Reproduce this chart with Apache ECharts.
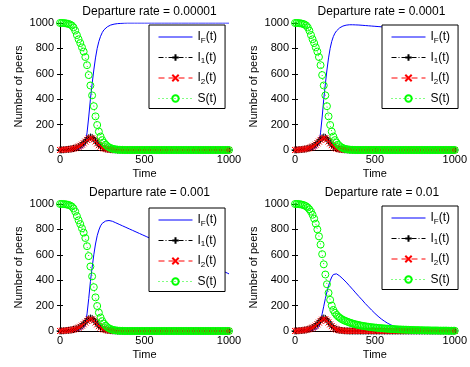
<!DOCTYPE html>
<html>
<head>
<meta charset="utf-8">
<script src="https://cdn.jsdelivr.net/npm/echarts@6/dist/echarts.min.js"></script>
<style>
  html, body { margin: 0; padding: 0; background: #fff; }
</style>
</head>
<body>
<div id="main" style="width:470px;height:367px;"></div>
<script type="text/javascript">

// time samples (step 10)
var T = [
  0, 10, 20, 30, 40, 50, 60, 70, 80, 90,
  100, 110, 120, 130, 140, 150, 160, 170, 180, 190,
  200, 210, 220, 230, 240, 250, 260, 270, 280, 290,
  300, 310, 320, 330, 340, 350, 360, 370, 380, 390,
  400, 410, 420, 430, 440, 450, 460, 470, 480, 490,
  500, 510, 520, 530, 540, 550, 560, 570, 580, 590,
  600, 610, 620, 630, 640, 650, 660, 670, 680, 690,
  700, 710, 720, 730, 740, 750, 760, 770, 780, 790,
  800, 810, 820, 830, 840, 850, 860, 870, 880, 890,
  900, 910, 920, 930, 940, 950, 960, 970, 980, 990,
  1000
];

var rates = ['0.00001', '0.0001', '0.001', '0.01'];

// I_F(t) for each departure rate
var IF_a = [
  0, 0, 0, 0, 0, 1, 1, 1, 2, 3,
  4, 6, 9, 15, 25, 55, 135, 260, 400, 520,
  630, 725, 800, 855, 895, 925, 946, 960, 970, 978,
  984, 988, 991, 993, 995, 996, 997, 998, 999, 999,
  1000, 1000, 1000, 1000, 1000, 1000, 1000, 1000, 1000, 1000,
  1000, 1000, 1000, 1000, 1000, 1000, 1000, 1000, 1000, 1000,
  1000, 1000, 1000, 1000, 1000, 1000, 1000, 1000, 1000, 1000,
  1000, 1000, 1000, 1000, 1000, 1000, 1000, 1000, 1000, 1000,
  1000, 1000, 1000, 1000, 1000, 1000, 1000, 1000, 1000, 1000,
  1000, 1000, 1000, 1000, 1000, 1000, 1000, 1000, 1000, 1000,
  1000
];
var IF_b = [
  0, 0, 0, 0, 0, 1, 1, 1, 2, 3,
  4, 6, 9, 14, 25, 55, 135, 260, 400, 520,
  630, 725, 800, 855, 893, 920, 938, 952, 962, 970,
  976, 980, 983, 985, 986, 986, 986, 986, 985, 985,
  984, 983, 982, 981, 980, 979, 978, 977, 976, 975,
  974, 973, 972, 971, 970, 969, 968, 967, 966, 965,
  964, 963, 962, 961, 960, 959, 958, 957, 956, 955,
  954, 953, 952, 951, 950, 949, 948, 947, 946, 945,
  944, 943, 942, 941, 940, 939, 938, 937, 936, 935,
  934, 933, 932, 931, 930, 929, 929, 928, 928, 927,
  927
];
var IF_c = [
  0, 0, 0, 0, 0, 1, 1, 1, 2, 3,
  4, 6, 9, 14, 25, 55, 135, 255, 390, 500,
  600, 685, 750, 795, 828, 848, 860, 866, 869, 870,
  868, 864, 858, 852, 846, 840, 834, 828, 822, 816,
  810, 804, 798, 792, 786, 780, 774, 768, 762, 756,
  750, 744, 738, 732, 726, 720, 714, 708, 702, 696,
  690, 684, 678, 672, 666, 660, 654, 648, 642, 636,
  630, 624, 618, 612, 606, 600, 594, 588, 582, 576,
  570, 564, 558, 552, 546, 540, 534, 528, 522, 516,
  510, 504, 498, 492, 486, 480, 474, 468, 462, 456,
  450
];
var IF_d = [
  0, 0, 0, 0, 0, 1, 1, 1, 2, 3,
  4, 6, 9, 13, 20, 38, 75, 135, 195, 255,
  308, 355, 395, 425, 445, 452, 450, 443, 433, 422,
  410, 398, 385, 371, 357, 343, 329, 315, 300, 286,
  272, 258, 245, 230, 216, 203, 190, 177, 164, 151,
  139, 127, 116, 105, 95, 86, 77, 69, 61, 54,
  48, 42, 37, 32, 28, 24, 21, 18, 16, 14,
  12, 10, 9, 8, 7, 6, 5, 5, 4, 4,
  3, 3, 3, 2, 2, 2, 2, 2, 1, 1,
  1, 1, 1, 1, 1, 1, 1, 1, 1, 1,
  1
];

// I_1(t), I_2(t)
var I1 = [
  0, 1, 2, 3, 4, 5, 7, 9, 12, 16,
  21, 27, 35, 45, 57, 70, 84, 96, 102, 99,
  88, 72, 55, 40, 28, 19, 13, 9, 6, 4,
  3, 2, 1, 1, 0, 0, 0, 0, 0, 0,
  0, 0, 0, 0, 0, 0, 0, 0, 0, 0,
  0, 0, 0, 0, 0, 0, 0, 0, 0, 0,
  0, 0, 0, 0, 0, 0, 0, 0, 0, 0,
  0, 0, 0, 0, 0, 0, 0, 0, 0, 0,
  0, 0, 0, 0, 0, 0, 0, 0, 0, 0,
  0, 0, 0, 0, 0, 0, 0, 0, 0, 0,
  0
];
var I2 = [
  0, 1, 2, 3, 4, 5, 7, 9, 12, 15,
  20, 26, 33, 42, 53, 66, 79, 89, 94, 91,
  82, 67, 52, 38, 27, 18, 12, 8, 6, 4,
  3, 2, 1, 1, 0, 0, 0, 0, 0, 0,
  0, 0, 0, 0, 0, 0, 0, 0, 0, 0,
  0, 0, 0, 0, 0, 0, 0, 0, 0, 0,
  0, 0, 0, 0, 0, 0, 0, 0, 0, 0,
  0, 0, 0, 0, 0, 0, 0, 0, 0, 0,
  0, 0, 0, 0, 0, 0, 0, 0, 0, 0,
  0, 0, 0, 0, 0, 0, 0, 0, 0, 0,
  0
];

// S(t): first three rates look the same, the last one decays slower
var S_a = [
  1000, 1000, 1000, 998, 996, 993, 988, 980, 965, 940,
  905, 872, 842, 808, 775, 732, 668, 590, 508, 430,
  345, 265, 197, 145, 106, 78, 58, 42, 30, 21,
  15, 10, 7, 5, 3, 2, 1, 1, 0, 0,
  0, 0, 0, 0, 0, 0, 0, 0, 0, 0,
  0, 0, 0, 0, 0, 0, 0, 0, 0, 0,
  0, 0, 0, 0, 0, 0, 0, 0, 0, 0,
  0, 0, 0, 0, 0, 0, 0, 0, 0, 0,
  0, 0, 0, 0, 0, 0, 0, 0, 0, 0,
  0, 0, 0, 0, 0, 0, 0, 0, 0, 0,
  0
];
var S_d = [
  1000, 1000, 1000, 998, 996, 993, 988, 982, 972, 958,
  940, 915, 885, 845, 800, 745, 680, 605, 525, 445,
  368, 300, 245, 200, 165, 143, 127, 114, 104, 95,
  88, 82, 77, 72, 67, 63, 59, 55, 52, 49,
  46, 44, 41, 39, 37, 35, 33, 31, 30, 28,
  27, 26, 24, 23, 22, 21, 20, 19, 18, 17,
  16, 15, 15, 14, 13, 12, 12, 11, 11, 10,
  10, 9, 9, 8, 8, 7, 7, 7, 6, 6,
  6, 5, 5, 5, 5, 4, 4, 4, 4, 4,
  3, 3, 3, 3, 3, 3, 2, 2, 2, 2,
  2
];

var IFs = [IF_a, IF_b, IF_c, IF_d];
var Ss = [S_a, S_a, S_a, S_d];

// layout of the four panels
var grids = [
  {left: 60, top: 23, width: 169, height: 127},
  {left: 295, top: 23, width: 163, height: 127},
  {left: 60, top: 204, width: 169, height: 127},
  {left: 295, top: 204, width: 164, height: 127}
];
var legendPos = [
  {left: 149, top: 25},
  {left: 382, top: 25},
  {left: 149, top: 208},
  {left: 382, top: 206}
];

var FONT = '"Liberation Sans", Arial, Helvetica, sans-serif';
var names = {IF: 'I{sub|F}(t)', I1: 'I{sub|1}(t)', I2: 'I{sub|2}(t)', S: 'S(t)'};

function pairs(arr) {
  return T.map(function (t, k) { return [t, arr[k]]; });
}
function plain(v) { return String(v); }

var option = {
  animation: false,
  backgroundColor: '#fff',
  title: [], grid: [], xAxis: [], yAxis: [], legend: [], series: []
};

var line = {show: true, lineStyle: {color: '#000', width: 1}};
var tick = {show: true, inside: true, length: 3, lineStyle: {color: '#000', width: 1}};

for (var i = 0; i < 4; i++) {
  var g = grids[i];
  option.grid.push({left: g.left, top: g.top, width: g.width, height: g.height});
  option.title.push({
    text: 'Departure rate = ' + rates[i],
    left: g.left + g.width / 2, top: g.top - 22, textAlign: 'center',
    textStyle: {fontFamily: FONT, fontSize: 12, fontWeight: 'normal', color: '#000'}
  });
  // bottom + top x axes
  option.xAxis.push({
    gridIndex: i, type: 'value', min: 0, max: 1000, interval: 500,
    axisLine: line, axisTick: tick, splitLine: {show: false},
    axisLabel: {fontFamily: FONT, fontSize: 11, color: '#000', margin: 4, formatter: plain},
    name: 'Time', nameLocation: 'middle', nameGap: 18,
    nameTextStyle: {fontFamily: FONT, fontSize: 11, color: '#000'}
  });
  option.xAxis.push({
    gridIndex: i, type: 'value', position: 'top', min: 0, max: 1000, interval: 500,
    axisLine: line, axisTick: tick, splitLine: {show: false}, axisLabel: {show: false}
  });
  // left + right y axes
  option.yAxis.push({
    gridIndex: i, type: 'value', min: 0, max: 1000, interval: 200,
    axisLine: line, axisTick: tick, splitLine: {show: false},
    axisLabel: {fontFamily: FONT, fontSize: 11, color: '#000', margin: 6, formatter: plain},
    name: 'Number of peers', nameLocation: 'middle', nameGap: 36,
    nameTextStyle: {fontFamily: FONT, fontSize: 11, color: '#000'}
  });
  option.yAxis.push({
    gridIndex: i, type: 'value', position: 'right', min: 0, max: 1000, interval: 200,
    axisLine: line, axisTick: tick, splitLine: {show: false}, axisLabel: {show: false}
  });

  var xi = 2 * i, yi = 2 * i;
  option.series.push({
    name: 'IF', type: 'line', xAxisIndex: xi, yAxisIndex: yi,
    data: pairs(IFs[i]), showSymbol: false, symbol: 'none',
    lineStyle: {color: '#0000ff', width: 1}, itemStyle: {color: '#0000ff'}
  });
  option.series.push({
    name: 'I1', type: 'line', xAxisIndex: xi, yAxisIndex: yi,
    data: pairs(I1), showAllSymbol: true,
    symbol: 'path://M5,0L5,10M0,5L10,5', symbolSize: 7,
    lineStyle: {color: '#000', width: 1, type: [5, 2, 1, 2]},
    itemStyle: {color: 'transparent', borderColor: '#000', borderWidth: 1}
  });
  option.series.push({
    name: 'I2', type: 'line', xAxisIndex: xi, yAxisIndex: yi,
    data: pairs(I2), showAllSymbol: true,
    symbol: 'path://M0,0L10,10M10,0L0,10', symbolSize: 6,
    lineStyle: {color: '#ff0000', width: 1, type: [6, 4]},
    itemStyle: {color: 'transparent', borderColor: '#ff0000', borderWidth: 1}
  });
  option.series.push({
    name: 'S', type: 'line', xAxisIndex: xi, yAxisIndex: yi,
    data: pairs(Ss[i]), showAllSymbol: true,
    symbol: 'circle', symbolSize: 7,
    lineStyle: {color: '#00ff00', width: 1, type: [1, 3]},
    itemStyle: {color: 'transparent', borderColor: '#00ff00', borderWidth: 1}
  });

  option.legend.push({
    left: legendPos[i].left, top: legendPos[i].top, orient: 'vertical',
    data: [
      {name: 'IF', itemStyle: {color: 'transparent', borderColor: 'transparent', borderWidth: 0}},
      'I1', 'I2', 'S'
    ],
    selectedMode: false,
    backgroundColor: '#fff', borderColor: '#000', borderWidth: 1, borderRadius: 0,
    padding: [5, 8, 3, 9], itemGap: 6, itemWidth: 34, itemHeight: 8,
    lineStyle: {width: 1},
    formatter: function (n) { return names[n]; },
    textStyle: {
      fontFamily: FONT, fontSize: 12, color: '#000', lineHeight: 14,
      rich: {sub: {fontFamily: FONT, fontSize: 8, color: '#000', padding: [7, 0, 0, 0]}}
    }
  });
}

var myChart = echarts.init(document.getElementById('main'));
myChart.setOption(option);

</script>
</body>
</html>
